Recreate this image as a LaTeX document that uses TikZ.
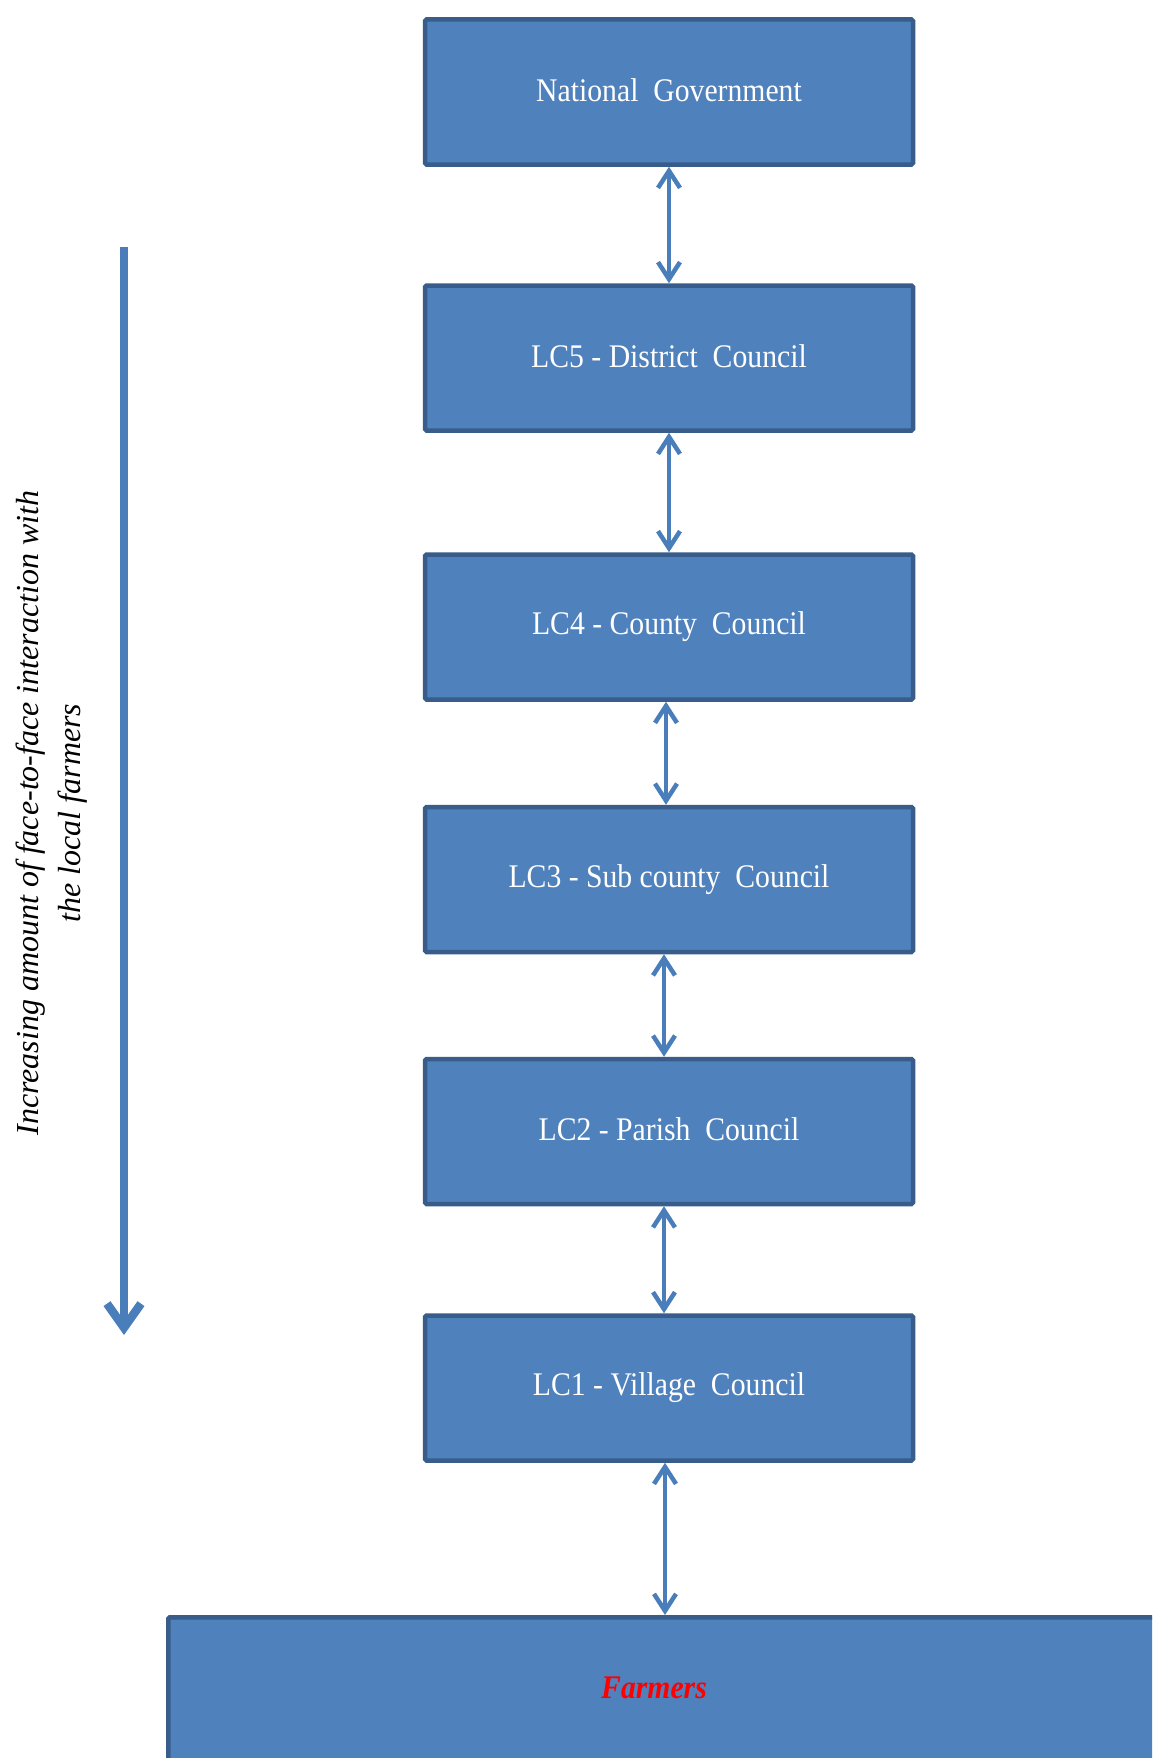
\documentclass[tikz,border=0pt]{standalone}
\usepackage{fontspec}
\setmainfont{Liberation Serif}
\usetikzlibrary{arrows.meta}
\definecolor{boxfill}{HTML}{4F81BD}
\definecolor{boxline}{HTML}{385D8A}
\definecolor{arrowc}{HTML}{4A7EBB}
\newcommand{\narrowtext}[1]{\scalebox{0.9}[1]{#1}}
\tikzset{
  levelbox/.style={draw=boxline, line width=4.5pt, fill=boxfill, rounded corners=1.5pt,
    minimum width=488pt, minimum height=145pt, inner sep=0pt, text=white,
    font=\fontsize{33}{38}\selectfont},
  link/.style={draw=arrowc, line width=4.5pt, {Straight Barb[length=17pt,width=22pt,line width=4.5pt]}-{Straight Barb[length=17pt,width=22pt,line width=4.5pt]}},
  bigarrow/.style={draw=arrowc, line width=8.5pt, -{Straight Barb[length=24pt,width=34pt,line width=8.5pt]}},
}
\begin{document}
\begin{tikzpicture}[x=1pt,y=1pt]
\clip (0,0) rectangle (1152,-1758);
\fill[white] (0,0) rectangle (1152,-1758);
\node[levelbox] (ng)  at (669,-92)  {\raisebox{4pt}{\narrowtext{National\ \ Government}}};
\node[levelbox] (lc5) at (669,-358) {\raisebox{4pt}{\narrowtext{LC5 - District\ \ Council}}};
\node[levelbox] (lc4) at (669,-627)   {\raisebox{4pt}{\narrowtext{LC4 - County\ \ Council}}};
\node[levelbox] (lc3) at (669,-879.5) {\raisebox{4pt}{\narrowtext{LC3 - Sub county\ \ Council}}};
\node[levelbox] (lc2) at (669,-1131.5){\raisebox{4pt}{\narrowtext{LC2 - Parish\ \ Council}}};
\node[levelbox] (lc1) at (669,-1388)  {\raisebox{4pt}{\narrowtext{LC1 - Village\ \ Council}}};
\node[levelbox, minimum width=1040pt, minimum height=300pt, anchor=north west] (farm) at (166,-1615) {};
\node[text=red, font=\fontsize{33}{38}\selectfont\bfseries\itshape] (farmtxt) at (654,-1688) {\narrowtext{Farmers}};
\draw[link] (ng.south) -- (lc5.north);
\draw[link] (lc5.south) -- (lc4.north);
\draw[link] ([xshift=-3pt]lc4.south) -- ([xshift=-3pt]lc3.north);
\draw[link] ([xshift=-5pt]lc3.south) -- ([xshift=-5pt]lc2.north);
\draw[link] ([xshift=-5pt]lc2.south) -- ([xshift=-5pt]lc1.north);
\coordinate (fm) at ([xshift=-4pt]lc1.south |- farm.north);
\draw[link] ([xshift=-4pt]lc1.south) -- (fm);
\coordinate (as) at (124,-247);
\coordinate (ae) at (124,-1335);
\draw[bigarrow] (as) -- (ae);
\node[rotate=90, align=center, font=\fontsize{32}{42}\selectfont\itshape] (lbl) at (52,-813)
  {Increasing amount of face-to-face interaction with\\the local farmers};
\end{tikzpicture}
\end{document}
